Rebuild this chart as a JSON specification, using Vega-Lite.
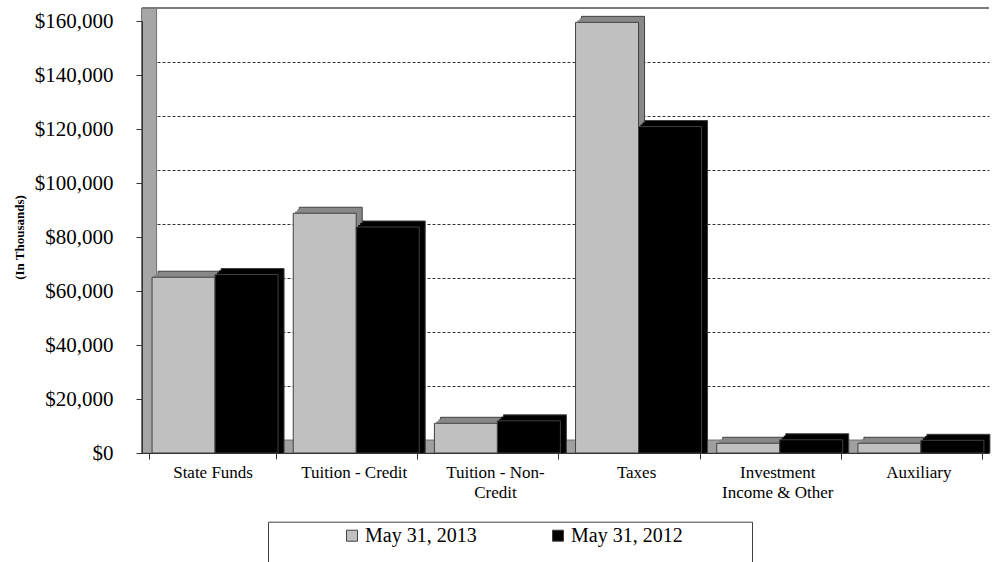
{
  "$schema": "https://vega.github.io/schema/vega-lite/v6.json",
  "width": 847,
  "height": 432,
  "autosize": {"type": "none"},
  "padding": {"left": 142, "top": 21, "right": 11, "bottom": 109},
  "background": "#ffffff",
  "config": {"view": {"stroke": null}, "font": "Liberation Serif"},
  "data": {
    "values": [
      {"source": "State Funds", "period": "May 31, 2013", "amount": 65100},
      {"source": "State Funds", "period": "May 31, 2012", "amount": 66100},
      {"source": "Tuition - Credit", "period": "May 31, 2013", "amount": 88800},
      {"source": "Tuition - Credit", "period": "May 31, 2012", "amount": 83700},
      {"source": "Tuition - Non-Credit", "period": "May 31, 2013", "amount": 11000},
      {"source": "Tuition - Non-Credit", "period": "May 31, 2012", "amount": 11900},
      {"source": "Taxes", "period": "May 31, 2013", "amount": 159500},
      {"source": "Taxes", "period": "May 31, 2012", "amount": 120900},
      {"source": "Investment Income & Other", "period": "May 31, 2013", "amount": 3600},
      {"source": "Investment Income & Other", "period": "May 31, 2012", "amount": 4900},
      {"source": "Auxiliary", "period": "May 31, 2013", "amount": 3600},
      {"source": "Auxiliary", "period": "May 31, 2012", "amount": 4700}
    ]
  },
  "resolve": {"scale": {"xOffset": "independent"}, "axis": {"y": "independent"}},
  "layer": [
    {
      "data": {"values": [{}]},
      "mark": {"type": "rect", "fill": "#a0a0a0", "stroke": "#707070", "strokeWidth": 1},
      "encoding": {
        "y": {
          "datum": 0, "type": "quantitative",
          "scale": {"domain": [0, 160000], "nice": false, "zero": true},
          "axis": {
            "orient": "left",
            "values": [24800, 44800, 64800, 84800, 104800, 124800, 144800],
            "grid": true, "gridDash": [3, 2], "gridColor": "#333333", "gridWidth": 1,
            "domain": false, "ticks": false, "labels": false, "title": null
          }
        },
        "y2": {"datum": 4800}
      }
    },
    {
      "data": {"values": [{}]},
      "mark": {"type": "bar", "width": 15, "xOffset": -63.5, "fill": "#a6a6a6", "stroke": "#707070", "strokeWidth": 1},
      "encoding": {
        "x": {
          "datum": "State Funds", "type": "nominal",
          "scale": {"domain": ["State Funds", "Tuition - Credit", "Tuition - Non-Credit", "Taxes", "Investment Income & Other", "Auxiliary"], "paddingInner": 0.1, "paddingOuter": 0.05}
        },
        "y": {"datum": 164800, "type": "quantitative", "scale": {"domain": [0, 160000], "nice": false, "zero": true}, "axis": null},
        "y2": {"datum": 0}
      }
    },
    {
      "data": {"values": [{}]},
      "mark": {"type": "rule", "stroke": "#7a7a7a", "strokeWidth": 2},
      "encoding": {
        "y": {
          "datum": 164800, "type": "quantitative",
          "scale": {"domain": [0, 160000], "nice": false, "zero": true},
          "axis": null
        }
      }
    },
    {
      "mark": {"type": "bar", "yOffset": -6, "y2Offset": -6, "stroke": "#404040", "strokeWidth": 1},
      "encoding": {
        "x": {
          "field": "source", "type": "nominal",
          "scale": {"domain": ["State Funds", "Tuition - Credit", "Tuition - Non-Credit", "Taxes", "Investment Income & Other", "Auxiliary"], "paddingInner": 0.1, "paddingOuter": 0.05}
        },
        "xOffset": {"field": "period", "scale": {"domain": ["May 31, 2013", "May 31, 2012"], "range": [9, 135]}},
        "y": {"field": "amount", "type": "quantitative", "stack": null, "scale": {"domain": [0, 160000], "nice": false, "zero": true}, "axis": null},
        "fill": {"condition": {"test": "datum.period == 'May 31, 2013'", "value": "#888888"}, "value": "#000000"}
      }
    },
    {
      "mark": {"type": "bar", "yOffset": -4, "y2Offset": -4},
      "encoding": {
        "x": {
          "field": "source", "type": "nominal",
          "scale": {"domain": ["State Funds", "Tuition - Credit", "Tuition - Non-Credit", "Taxes", "Investment Income & Other", "Auxiliary"], "paddingInner": 0.1, "paddingOuter": 0.05}
        },
        "xOffset": {"field": "period", "scale": {"domain": ["May 31, 2013", "May 31, 2012"], "range": [7, 133]}},
        "y": {"field": "amount", "type": "quantitative", "stack": null, "scale": {"domain": [0, 160000], "nice": false, "zero": true}, "axis": null},
        "fill": {"condition": {"test": "datum.period == 'May 31, 2013'", "value": "#888888"}, "value": "#000000"}
      }
    },
    {
      "mark": {"type": "bar", "yOffset": -2, "y2Offset": -2},
      "encoding": {
        "x": {
          "field": "source", "type": "nominal",
          "scale": {"domain": ["State Funds", "Tuition - Credit", "Tuition - Non-Credit", "Taxes", "Investment Income & Other", "Auxiliary"], "paddingInner": 0.1, "paddingOuter": 0.05}
        },
        "xOffset": {"field": "period", "scale": {"domain": ["May 31, 2013", "May 31, 2012"], "range": [5, 131]}},
        "y": {"field": "amount", "type": "quantitative", "stack": null, "scale": {"domain": [0, 160000], "nice": false, "zero": true}, "axis": null},
        "fill": {"condition": {"test": "datum.period == 'May 31, 2013'", "value": "#888888"}, "value": "#000000"}
      }
    },
    {
      "mark": {"type": "bar", "stroke": "#404040", "strokeWidth": 1},
      "encoding": {
        "x": {
          "field": "source", "type": "nominal",
          "scale": {"domain": ["State Funds", "Tuition - Credit", "Tuition - Non-Credit", "Taxes", "Investment Income & Other", "Auxiliary"], "paddingInner": 0.1, "paddingOuter": 0.05},
          "axis": {
            "title": null, "zindex": 1, "tickBand": "extent", "labelAngle": 0, "labelAlign": "center",
            "domainColor": "#333333", "tickColor": "#333333", "tickSize": 6,
            "labelFont": "Liberation Serif", "labelFontSize": 17, "labelColor": "#000000",
            "labelPadding": 13, "labelLineHeight": 20,
            "labelExpr": "datum.value == 'Tuition - Non-Credit' ? ['Tuition - Non-', 'Credit'] : datum.value == 'Investment Income & Other' ? ['Investment', 'Income & Other'] : datum.value"
          }
        },
        "xOffset": {"field": "period", "scale": {"domain": ["May 31, 2013", "May 31, 2012"], "range": [3, 129]}},
        "y": {
          "field": "amount", "type": "quantitative", "stack": null,
          "scale": {"domain": [0, 160000], "nice": false, "zero": true},
          "axis": {
            "orient": "left", "zindex": 1,
            "values": [0, 20000, 40000, 60000, 80000, 100000, 120000, 140000, 160000],
            "format": "$,.0f", "grid": false,
            "domainColor": "#333333", "tickColor": "#333333", "tickSize": 6,
            "labelFont": "Liberation Serif", "labelFontSize": 21, "labelColor": "#000000", "labelPadding": 23,
            "title": "(In Thousands)", "titleFont": "Liberation Serif", "titleFontSize": 13,
            "titleFontWeight": "bold", "titleColor": "#000000", "titlePadding": 8
          }
        },
        "color": {
          "field": "period", "type": "nominal",
          "scale": {"domain": ["May 31, 2013", "May 31, 2012"], "range": ["#c0c0c0", "#000000"]},
          "legend": {
            "orient": "none", "legendX": 126, "legendY": 500.7, "direction": "horizontal",
            "title": ["\u00a0", "\u00a0"], "titleOrient": "right", "titlePadding": 65, "titleLineHeight": 30,
            "titleFont": "Liberation Serif", "titleFontSize": 20,
            "symbolType": "square", "symbolSize": 121, "symbolStrokeColor": "#404040", "symbolStrokeWidth": 1,
            "symbolOffset": 70, "labelOffset": 3,
            "labelFont": "Liberation Serif", "labelFontSize": 20, "labelColor": "#000000",
            "columnPadding": 1, "padding": 4,
            "strokeColor": "#404040", "fillColor": "#ffffff"
          }
        }
      }
    }
  ]
}
